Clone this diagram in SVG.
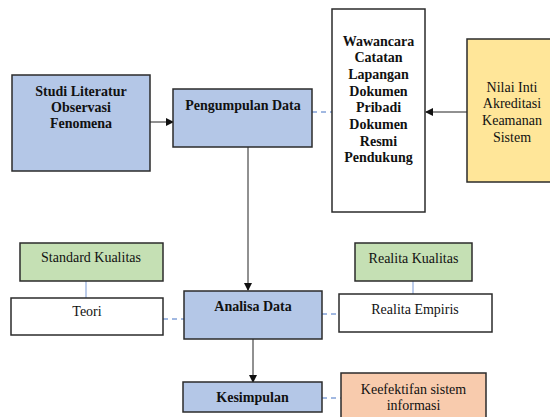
<svg xmlns="http://www.w3.org/2000/svg" width="550" height="417" viewBox="0 0 550 417">
<style>
.box{stroke:#2b2b2b;stroke-width:1.5}
.blue{fill:#B4C7E7}.green{fill:#C5E0B4}.yellow{fill:#FFE699}.orange{fill:#F8CBAD}.white{fill:#fff}
text{font-family:"Liberation Serif","Times New Roman",serif;font-size:14px;fill:#111;text-anchor:middle}
.b{font-weight:bold}
.arrow{stroke:#222;stroke-width:1;fill:none;marker-end:url(#ah)}
.dash{stroke:#4472C4;stroke-width:1;stroke-dasharray:5,4;fill:none}
.solidblue{stroke:#8FAADC;stroke-width:1.2;fill:none}
</style>
<defs>
<marker id="ah" markerWidth="8" markerHeight="8" refX="7" refY="4" orient="auto" markerUnits="userSpaceOnUse">
<path d="M0,0 L8,4 L0,8 Z" fill="#111"/>
</marker>
</defs>
<rect width="550" height="417" fill="#fff"/>
<g id="connectors">
<line class="arrow" x1="150" y1="122" x2="173" y2="122"/>
<line class="dash" x1="312" y1="112" x2="332" y2="112"/>
<line class="arrow" x1="467" y1="112" x2="426" y2="112"/>
<line class="arrow" x1="248" y1="147" x2="248" y2="290"/>
<line class="solidblue" x1="86" y1="281" x2="86" y2="298"/>
<line class="dash" x1="163" y1="319" x2="184" y2="319"/>
<line class="solidblue" x1="413" y1="281" x2="413" y2="294"/>
<line class="dash" x1="322" y1="314" x2="339" y2="314"/>
<line class="arrow" x1="253" y1="339" x2="253" y2="382"/>
<line class="dash" x1="322" y1="398" x2="341" y2="398"/>
</g>
<g id="studi">
<rect class="box blue" x="12" y="75" width="138" height="96"/>
<text class="b" x="81" y="95.5">Studi Literatur</text>
<text class="b" x="81" y="111.5">Observasi</text>
<text class="b" x="81" y="128">Fenomena</text>
</g>
<g id="pengumpulan">
<rect class="box blue" x="173" y="89" width="139" height="58"/>
<text class="b" x="243" y="110">Pengumpulan Data</text>
</g>
<g id="wawancara">
<rect class="box white" x="332" y="9" width="93" height="203"/>
<text class="b" x="378.5" y="45.5">Wawancara</text>
<text class="b" x="378.5" y="62">Catatan</text>
<text class="b" x="378.5" y="79">Lapangan</text>
<text class="b" x="378.5" y="95.5">Dokumen</text>
<text class="b" x="378.5" y="112">Pribadi</text>
<text class="b" x="378.5" y="129">Dokumen</text>
<text class="b" x="378.5" y="145.5">Resmi</text>
<text class="b" x="378.5" y="162">Pendukung</text>
</g>
<g id="nilai">
<rect class="box yellow" x="467" y="39" width="90" height="143"/>
<text x="512" y="91.5">Nilai Inti</text>
<text x="512" y="108">Akreditasi</text>
<text x="512" y="125">Keamanan</text>
<text x="512" y="141.5">Sistem</text>
</g>
<g id="standard">
<rect class="box green" x="20" y="243" width="143" height="38"/>
<text x="91" y="262">Standard Kualitas</text>
</g>
<g id="teori">
<rect class="box white" x="11" y="298" width="152" height="37"/>
<text x="87" y="316">Teori</text>
</g>
<g id="analisa">
<rect class="box blue" x="184" y="291" width="138" height="48"/>
<text class="b" x="253" y="311">Analisa Data</text>
</g>
<g id="realitaKualitas">
<rect class="box green" x="355" y="243" width="117" height="38"/>
<text x="413.5" y="263">Realita Kualitas</text>
</g>
<g id="realitaEmpiris">
<rect class="box white" x="339" y="294" width="153" height="38"/>
<text x="415" y="314">Realita Empiris</text>
</g>
<g id="kesimpulan">
<rect class="box blue" x="183" y="382" width="139" height="30"/>
<text class="b" x="252.5" y="402">Kesimpulan</text>
</g>
<g id="keefektifan">
<rect class="box orange" x="341" y="373" width="145" height="50"/>
<text x="413.5" y="394">Keefektifan sistem</text>
<text x="413.5" y="410">informasi</text>
</g>
</svg>
